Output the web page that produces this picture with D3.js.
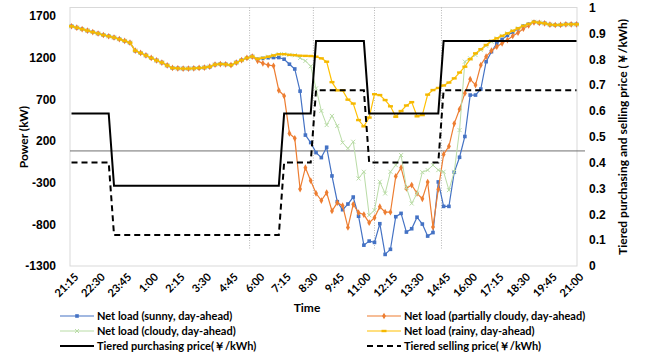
<!DOCTYPE html>
<html>
<head>
<meta charset="utf-8">
<script src="https://cdn.jsdelivr.net/npm/d3@7"></script>
<style>
  body { margin: 0; background: #fff; }
  svg { display: block; font-family: Lato, "Liberation Sans", sans-serif; font-weight: 700; }
</style>
</head>
<body>
<svg id="chart" width="651" height="356"></svg>
<script>
// time slots, 15 min apart, 21:15 to 21:00 next day
const times = ['21:15','21:30','21:45','22:00','22:15','22:30','22:45','23:00','23:15','23:30','23:45','0:00',
  '0:15','0:30','0:45','1:00','1:15','1:30','1:45','2:00','2:15','2:30','2:45','3:00','3:15','3:30','3:45','4:00',
  '4:15','4:30','4:45','5:00','5:15','5:30','5:45','6:00','6:15','6:30','6:45','7:00','7:15','7:30','7:45','8:00',
  '8:15','8:30','8:45','9:00','9:15','9:30','9:45','10:00','10:15','10:30','10:45','11:00','11:15','11:30','11:45',
  '12:00','12:15','12:30','12:45','13:00','13:15','13:30','13:45','14:00','14:15','14:30','14:45','15:00','15:15',
  '15:30','15:45','16:00','16:15','16:30','16:45','17:00','17:15','17:30','17:45','18:00','18:15','18:30','18:45',
  '19:00','19:15','19:30','19:45','20:00','20:15','20:30','20:45','21:00'];
const tickLabels = ['21:15','22:30','23:45','1:00','2:15','3:30','4:45','6:00','7:15','8:30','9:45','11:00',
  '12:15','13:30','14:45','16:00','17:15','18:30','19:45','21:00'];
const powerTicks = [-1300, -800, -300, 200, 700, 1200, 1700];
const priceTicks = [0, 0.1, 0.2, 0.3, 0.4, 0.5, 0.6, 0.7, 0.8, 0.9, 1];

// night part (21:15 - 5:45) is the same for every weather case
const nightLoad = [1575,1558,1540,1523,1505,1488,1470,1455,1440,1420,1400,1378,1282,1255,1225,1195,1165,1140,
  1105,1075,1070,1068,1068,1070,1075,1080,1090,1115,1122,1118,1110,1140,1168,1195,1212];

// 6:00 - 21:00
const sunnyDay = [1180,1190,1198,1200,1200,1180,1120,1063,797,270,180,60,0,124,-220,-529,-625,-557,-473,-703,
  -1050,-1001,-1017,-793,-1161,-1100,-709,-669,-893,-853,-715,-797,-941,-899,-292,-585,-585,-176,4,253,750,750,
  822,1150,1270,1370,1418,1465,1505,1545,1578,1600,1628,1618,1610,1595,1590,1592,1598,1598,1598];
const partlyDay = [1160,1130,1110,1100,806,740,290,231,-377,-121,-277,-428,-515,-420,-640,-540,-577,-838,-560,
  -661,-683,-781,-720,-589,-655,-655,-225,-121,-369,-329,-428,-495,-294,-833,-380,38,135,408,580,773,940,870,
  1110,1210,1282,1330,1370,1410,1458,1498,1545,1585,1620,1615,1610,1595,1590,1592,1598,1598,1598];
const cloudyDay = [1185,1195,1210,1225,1240,1240,1232,1228,1195,1160,1095,830,560,390,500,380,180,110,190,-250,
  -170,-690,-630,-290,-430,-170,-90,30,-360,-550,-430,-175,-150,-90,-150,-170,-390,-170,330,1150,1190,1230,
  1290,1340,1390,1430,1460,1490,1520,1550,1580,1602,1628,1618,1610,1595,1590,1592,1598,1598,1598];
const rainyDay = [1185,1195,1210,1225,1240,1240,1232,1228,1222,1220,1218,1210,1190,1150,905,806,806,695,648,450,
  375,480,760,750,690,615,490,558,625,665,495,510,755,810,835,865,900,950,1020,1090,1180,1250,1300,1350,1400,
  1430,1460,1490,1520,1550,1580,1602,1628,1618,1610,1595,1590,1592,1598,1598,1598];

const purchasePrice = [0.59,0.59,0.59,0.59,0.59,0.59,0.59,0.59,
  0.31,0.31,0.31,0.31,0.31,0.31,0.31,0.31,0.31,0.31,0.31,0.31,0.31,0.31,0.31,0.31,
  0.31,0.31,0.31,0.31,0.31,0.31,0.31,0.31,0.31,0.31,0.31,0.31,0.31,0.31,0.31,0.31,
  0.59,0.59,0.59,0.59,0.59,0.59,
  0.87,0.87,0.87,0.87,0.87,0.87,0.87,0.87,0.87,0.87,
  0.59,0.59,0.59,0.59,0.59,0.59,0.59,0.59,0.59,0.59,0.59,0.59,0.59,0.59,
  0.87,0.87,0.87,0.87,0.87,0.87,0.87,0.87,0.87,0.87,0.87,0.87,0.87,
  0.87,0.87,0.87,0.87,0.87,0.87,0.87,0.87,0.87,0.87,0.87,0.87,0.87];
const sellingPrice = [0.40,0.40,0.40,0.40,0.40,0.40,0.40,0.40,
  0.12,0.12,0.12,0.12,0.12,0.12,0.12,0.12,0.12,0.12,0.12,0.12,0.12,0.12,0.12,0.12,
  0.12,0.12,0.12,0.12,0.12,0.12,0.12,0.12,0.12,0.12,0.12,0.12,0.12,0.12,0.12,0.12,
  0.40,0.40,0.40,0.40,0.40,0.40,
  0.68,0.68,0.68,0.68,0.68,0.68,0.68,0.68,0.68,0.68,
  0.40,0.40,0.40,0.40,0.40,0.40,0.40,0.40,0.40,0.40,0.40,0.40,0.40,0.40,
  0.68,0.68,0.68,0.68,0.68,0.68,0.68,0.68,0.68,0.68,0.68,0.68,0.68,
  0.68,0.68,0.68,0.68,0.68,0.68,0.68,0.68,0.68,0.68,0.68,0.68,0.68];

// dotted period markers (slot position) and the horizontal reference line (kW)
const dividers = [33.5, 45.5, 57, 69.6];
const refLine = 80;

const sunny = nightLoad.concat(sunnyDay);
const partly = nightLoad.concat(partlyDay);
const cloudy = nightLoad.concat(cloudyDay);
const rainy = nightLoad.concat(rainyDay);

const svg = d3.select('#chart');
const plotL = 70, plotR = 577, plotT = 7.5, plotB = 266;

const x = d3.scaleLinear().domain([0, times.length - 1]).range([71.5, 576.5]);
const yL = d3.scaleLinear().domain([-1300, 1800]).range([plotB, plotT]);
const yR = d3.scaleLinear().domain([0, 1]).range([plotB, plotT]);

// plot frame
svg.append('rect')
  .attr('x', plotL).attr('y', plotT)
  .attr('width', plotR - plotL).attr('height', plotB - plotT)
  .attr('fill', 'none').attr('stroke', '#d9d9d9');

svg.selectAll('.divider')
  .data(dividers)
  .enter().append('line')
  .attr('class', 'divider')
  .attr('x1', d => x(d)).attr('x2', d => x(d))
  .attr('y1', plotT).attr('y2', 250)
  .attr('stroke', '#a6a6a6').attr('stroke-width', 0.8)
  .attr('stroke-dasharray', '1,1.5');

svg.append('line')
  .attr('x1', plotL).attr('x2', 585)
  .attr('y1', yL(refLine)).attr('y2', yL(refLine))
  .attr('stroke', '#6f6f6f').attr('stroke-width', 1);

// axes
const gL = svg.append('g')
  .attr('transform', 'translate(' + plotL + ',0)')
  .call(d3.axisLeft(yL).tickValues(powerTicks).tickFormat(d => String(d)).tickSize(0).tickPadding(14));
gL.select('.domain').remove();
gL.selectAll('text').attr('font-size', 12).attr('font-family', null).attr('fill', '#000');

const gR = svg.append('g')
  .attr('transform', 'translate(' + plotR + ',0)')
  .call(d3.axisRight(yR).tickValues(priceTicks).tickFormat(d => String(d)).tickSize(0).tickPadding(12));
gR.select('.domain').remove();
gR.selectAll('text').attr('font-size', 12).attr('font-family', null).attr('fill', '#000');

const gX = svg.append('g');
gX.selectAll('text')
  .data(tickLabels)
  .enter().append('text')
  .attr('transform', d => 'translate(' + (x(times.indexOf(d)) + 5) + ',275) rotate(-45)')
  .attr('text-anchor', 'end')
  .attr('dy', '0.35em')
  .attr('font-size', 11)
  .text(d => d);

svg.append('text')
  .attr('x', 307).attr('y', 312)
  .attr('text-anchor', 'middle')
  .attr('font-size', 12)
  .text('Time');

svg.append('text')
  .attr('transform', 'translate(28,137) rotate(-90)')
  .attr('text-anchor', 'middle')
  .attr('font-size', 12)
  .text('Power (kW)');

svg.append('text')
  .attr('transform', 'translate(627,137) rotate(-90)')
  .attr('text-anchor', 'middle')
  .attr('font-size', 12)
  .text('Tiered purchasing and selling price (￥/kWh)');

// series
const loadLine = d3.line().x((d, i) => x(i)).y(d => yL(d));
const priceLine = d3.line().x((d, i) => x(i)).y(d => yR(d));

const series = [
  { name: 'Net load (sunny, day-ahead)', values: sunny, color: '#4472c4', width: 1.2, marker: 'square' },
  { name: 'Net load (partially cloudy, day-ahead)', values: partly, color: '#ed7d31', width: 1.2, marker: 'dot' },
  { name: 'Net load (cloudy, day-ahead)', values: cloudy, color: '#b9dca6', width: 1, marker: 'cross' },
  { name: 'Net load (rainy, day-ahead)', values: rainy, color: '#ffc000', width: 1.2, marker: 'dash' }
];

function drawMarker(g, type, color) {
  if (type === 'square') {
    g.append('rect').attr('x', -1.8).attr('y', -1.8).attr('width', 3.6).attr('height', 3.6).attr('fill', color);
  } else if (type === 'dot') {
    g.append('path').attr('d', d3.symbol(d3.symbolDiamond, 13)()).attr('fill', color);
  } else if (type === 'cross') {
    g.append('path').attr('d', 'M-2,-2L2,2M-2,2L2,-2').attr('stroke', color).attr('stroke-width', 1);
  } else if (type === 'dash') {
    g.append('rect').attr('x', -2.5).attr('y', -1.2).attr('width', 5).attr('height', 2.4).attr('fill', '#f5b800');
  }
}

series.forEach(s => {
  svg.append('path')
    .datum(s.values)
    .attr('fill', 'none')
    .attr('stroke', s.color)
    .attr('stroke-width', s.width)
    .attr('d', loadLine);
  svg.append('g').selectAll('g')
    .data(s.values)
    .enter().append('g')
    .attr('transform', (d, i) => 'translate(' + x(i) + ',' + yL(d) + ')')
    .each(function () { drawMarker(d3.select(this), s.marker, s.color); });
});

svg.append('path')
  .datum(purchasePrice)
  .attr('fill', 'none').attr('stroke', '#000').attr('stroke-width', 2)
  .attr('d', priceLine);

svg.append('path')
  .datum(sellingPrice)
  .attr('fill', 'none').attr('stroke', '#000').attr('stroke-width', 2)
  .attr('stroke-dasharray', '6,4')
  .attr('d', priceLine);

// legend
const legendItems = [
  { s: series[0], col: 0, row: 0 },
  { s: series[1], col: 1, row: 0 },
  { s: series[2], col: 0, row: 1 },
  { s: series[3], col: 1, row: 1 },
  { s: { name: 'Tiered purchasing price(￥/kWh)', color: '#000', width: 2 }, col: 0, row: 2 },
  { s: { name: 'Tiered selling price(￥/kWh)', color: '#000', width: 2, dash: '6,4' }, col: 1, row: 2 }
];
const colX = [60, 367];
legendItems.forEach(it => {
  const g = svg.append('g')
    .attr('transform', 'translate(' + colX[it.col] + ',' + (316 + it.row * 15) + ')');
  g.append('line')
    .attr('x1', 0).attr('x2', 34)
    .attr('stroke', it.s.color).attr('stroke-width', it.s.width)
    .attr('stroke-dasharray', it.s.dash || null);
  if (it.s.marker) {
    const m = g.append('g').attr('transform', 'translate(17,0)');
    drawMarker(m, it.s.marker, it.s.color);
  }
  g.append('text')
    .attr('x', 37).attr('dy', '0.35em')
    .attr('font-size', 11)
    .text(it.s.name);
});
</script>
</body>
</html>
